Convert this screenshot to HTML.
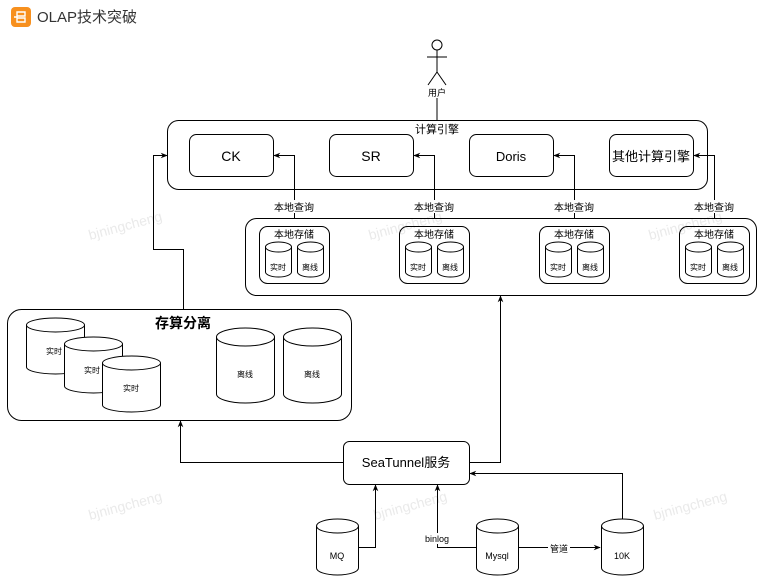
<!DOCTYPE html>
<html><head><meta charset="utf-8"><style>
html,body{margin:0;padding:0;background:#fff;}
svg{display:block;}
text{font-family:"Liberation Sans","Noto Sans CJK SC",sans-serif;fill:#000;}
</style></head><body>
<svg width="765" height="582" viewBox="0 0 765 582" xmlns="http://www.w3.org/2000/svg">
<defs>
<marker id="a" viewBox="0 0 10 10" refX="9" refY="5" markerWidth="7" markerHeight="7" orient="auto"><path d="M0,1 L10,5 L0,9 L3,5 z" fill="#000"/></marker>
</defs>
<!-- title -->
<rect x="11" y="7" width="20" height="20" rx="4" fill="#f7901e"/>
<path d="M17 12h8v4h-8zM17 18h8v4h-8zM14 17h3M17 14v6" stroke="#fff" stroke-width="1.4" fill="none"/>
<text x="37" y="22" font-size="15" fill="#333" style="fill:#333">OLAP技术突破</text>

<!-- watermarks -->
<g font-size="14" style="fill:#e6e6e6" fill="#e6e6e6">
<text x="90" y="240" transform="rotate(-15 90 240)" style="fill:#eaeaea">bjningcheng</text>
<text x="370" y="240" transform="rotate(-15 370 240)" style="fill:#eaeaea">bjningcheng</text>
<text x="650" y="240" transform="rotate(-15 650 240)" style="fill:#eaeaea">bjningcheng</text>
<text x="90" y="520" transform="rotate(-15 90 520)" style="fill:#eaeaea">bjningcheng</text>
<text x="375" y="520" transform="rotate(-15 375 520)" style="fill:#eaeaea">bjningcheng</text>
<text x="655" y="520" transform="rotate(-15 655 520)" style="fill:#eaeaea">bjningcheng</text>
</g>

<g fill="none" stroke="#000" stroke-width="1">
<!-- user -->
<circle cx="437" cy="45" r="5" fill="#fff"/>
<path d="M437 50V72M427 57H447M437 72L428 85M437 72L446 85"/>
<path d="M437 120V89" marker-end="url(#a)"/>

<!-- compute engine -->
<rect x="167.5" y="120.5" width="540" height="69" rx="11"/>
<rect x="189.5" y="134.5" width="84" height="42" rx="7"/>
<rect x="329.5" y="134.5" width="84" height="42" rx="7"/>
<rect x="469.5" y="134.5" width="84" height="42" rx="7"/>
<rect x="609.5" y="134.5" width="84" height="42" rx="7"/>

<!-- storage -->
<rect x="245.5" y="218.5" width="511" height="77" rx="11"/>
<g id="ls">
<rect x="259.5" y="226.5" width="70" height="57" rx="8"/>
<path d="M265.5 247v25a13 5 0 0 0 26 0v-25a13 5 0 0 0 -26 0a13 5 0 0 0 26 0"/>
<path d="M297.5 247v25a13 5 0 0 0 26 0v-25a13 5 0 0 0 -26 0a13 5 0 0 0 26 0"/>
</g>
<use href="#ls" x="140"/>
<use href="#ls" x="280"/>
<use href="#ls" x="420"/>

<!-- local query arrows -->
<path d="M294.5 218V155.5H274" marker-end="url(#a)"/>
<path d="M434.5 218V155.5H414" marker-end="url(#a)"/>
<path d="M574.5 218V155.5H554" marker-end="url(#a)"/>
<path d="M714.5 218V155.5H694" marker-end="url(#a)"/>

<!-- left connector -->
<path d="M183.5 309V249.5H153.5V155.5H167" marker-end="url(#a)"/>

<!-- separation -->
<rect x="7.5" y="309.5" width="344" height="111" rx="14"/>
<path d="M26.5 325v42a29 7 0 0 0 58 0v-42a29 7 0 0 0 -58 0a29 7 0 0 0 58 0" fill="#fff"/>
<path d="M64.5 344v42a29 7 0 0 0 58 0v-42a29 7 0 0 0 -58 0a29 7 0 0 0 58 0" fill="#fff"/>
<path d="M102.5 363v42a29 7 0 0 0 58 0v-42a29 7 0 0 0 -58 0a29 7 0 0 0 58 0" fill="#fff"/>
<path d="M216.5 337v57a29 9 0 0 0 58 0v-57a29 9 0 0 0 -58 0a29 9 0 0 0 58 0"/>
<path d="M283.5 337v57a29 9 0 0 0 58 0v-57a29 9 0 0 0 -58 0a29 9 0 0 0 58 0"/>

<!-- seatunnel -->
<rect x="343.5" y="441.5" width="126" height="43" rx="6"/>
<path d="M343 462.5H180.5V421" marker-end="url(#a)"/>
<path d="M469 462.5H500.5V296" marker-end="url(#a)"/>

<!-- sources -->
<path d="M316.5 526v42a21 7 0 0 0 42 0v-42a21 7 0 0 0 -42 0a21 7 0 0 0 42 0"/>
<path d="M476.5 526v42a21 7 0 0 0 42 0v-42a21 7 0 0 0 -42 0a21 7 0 0 0 42 0"/>
<path d="M601.5 526v42a21 7 0 0 0 42 0v-42a21 7 0 0 0 -42 0a21 7 0 0 0 42 0"/>
<path d="M358 547.5H375.5V485" marker-end="url(#a)"/>
<path d="M476 547.5H437.5V485" marker-end="url(#a)"/>
<path d="M518 547.5H600" marker-end="url(#a)"/>
<path d="M622.5 519V473.5H470" marker-end="url(#a)"/>
</g>

<!-- labels -->
<rect x="428" y="87" width="18" height="11" fill="#fff"/>
<text x="437" y="96" font-size="9" text-anchor="middle">用户</text>
<text x="437" y="133" font-size="11" text-anchor="middle">计算引擎</text>
<text x="231" y="161" font-size="14" text-anchor="middle">CK</text>
<text x="371" y="161" font-size="14" text-anchor="middle">SR</text>
<text x="511" y="161" font-size="13" text-anchor="middle">Doris</text>
<text x="651" y="161" font-size="13" text-anchor="middle">其他计算引擎</text>
<g font-size="10" text-anchor="middle">
<rect x="272" y="200" width="44" height="13" fill="#fff"/><text x="294" y="211">本地查询</text>
<rect x="412" y="200" width="44" height="13" fill="#fff"/><text x="434" y="211">本地查询</text>
<rect x="552" y="200" width="44" height="13" fill="#fff"/><text x="574" y="211">本地查询</text>
<rect x="692" y="200" width="44" height="13" fill="#fff"/><text x="714" y="211">本地查询</text>
</g>
<g font-size="10" text-anchor="middle">
<text x="294" y="238">本地存储</text><text x="434" y="238">本地存储</text><text x="574" y="238">本地存储</text><text x="714" y="238">本地存储</text>
</g>
<g font-size="8" text-anchor="middle">
<text x="278" y="270">实时</text><text x="310" y="270">离线</text>
<text x="418" y="270">实时</text><text x="450" y="270">离线</text>
<text x="558" y="270">实时</text><text x="590" y="270">离线</text>
<text x="698" y="270">实时</text><text x="730" y="270">离线</text>
</g>
<text x="183" y="328" font-size="14" font-weight="bold" text-anchor="middle">存算分离</text>
<g font-size="8" text-anchor="middle">
<text x="54" y="354">实时</text><text x="92" y="373">实时</text><text x="131" y="391">实时</text>
<text x="245" y="377">离线</text><text x="312" y="377">离线</text>
</g>
<text x="406" y="467" font-size="13" text-anchor="middle">SeaTunnel服务</text>
<g font-size="9" text-anchor="middle">
<text x="337" y="559">MQ</text>
<text x="497" y="559">Mysql</text>
<text x="622" y="559">10K</text>
<rect x="420" y="533" width="34" height="11" fill="#fff"/><text x="437" y="542">binlog</text>
<rect x="548" y="543" width="22" height="11" fill="#fff"/><text x="559" y="552">管道</text>
</g>
</svg>
</body></html>
